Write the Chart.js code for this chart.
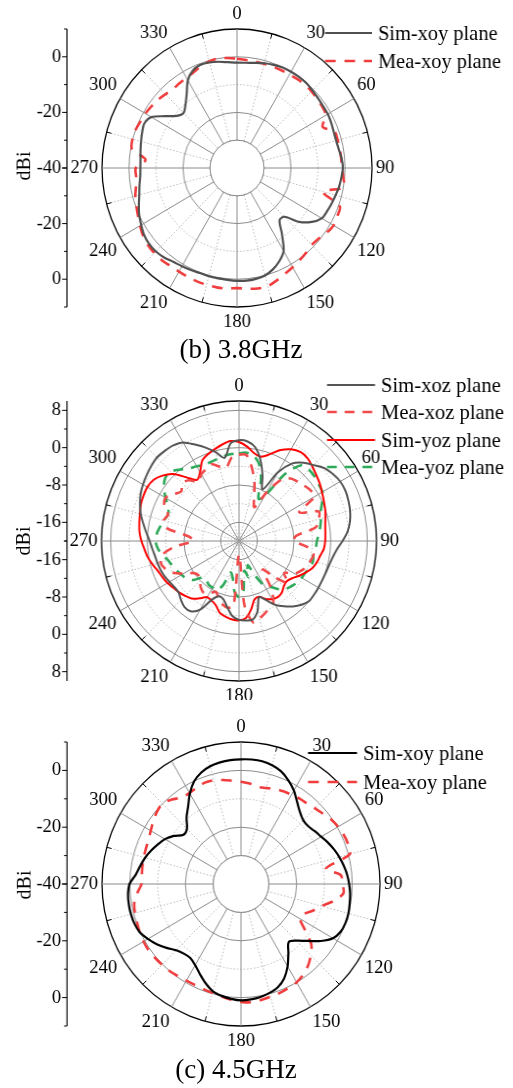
<!DOCTYPE html>
<html>
<head>
<meta charset="utf-8">
<script src="https://cdn.jsdelivr.net/npm/chart.js@4.4.1/dist/chart.umd.min.js"></script>
<style>
  html, body { margin: 0; padding: 0; background: #fff; }
  body { width: 513px; height: 1088px; position: relative; overflow: hidden;
         font-family: "Liberation Serif", "Times New Roman", serif; }
  .wrap { position: absolute; left: 0; }
  .cap { position: absolute; width: 300px; text-align: center; font-size: 27px;
         line-height: 30px; color: #000; white-space: nowrap; }
</style>
</head>
<body>
<div class="wrap" id="w1"><canvas id="c1" width="513" height="345"></canvas></div>
<div class="wrap" id="w2"><canvas id="c2" width="513" height="335"></canvas></div>
<div class="wrap" id="w3"><canvas id="c3" width="513" height="340"></canvas></div>
<div class="cap" style="left:91px;top:334px">(b) 3.8GHz</div>
<div class="cap" style="left:86px;top:1054px">(c) 4.5GHz</div>

<script>
// ── Data (dBi, one value every 5° starting at 0°, clockwise) ──────────
const ANGLES = Array.from({ length: 72 }, (_, i) => i * 5);

// (b) 3.8 GHz, xoy plane
const sim38 = [
  -2.1, -2.0, -1.6, -1.0, -0.5, -0.1,  0.0,  0.0, -0.1, -0.5, -0.9, -1.1,
  -1.2, -1.5, -1.9, -2.0, -1.7, -1.1, -0.8, -1.2, -1.6, -2.2, -2.7, -3.2,
  -3.8, -6.2, -9.8,-15.2,-15.5,-11.0, -5.5, -3.0, -1.2,  0.0,  0.5,  0.7,
   0.6,  0.4,  0.3,  0.3,  0.2,  0.5,  0.8,  1.2,  2.0,  2.5,  2.5,  2.0,
   1.0,  0.0, -1.3, -2.5, -3.3, -4.0, -4.2, -4.1, -3.7, -3.2, -2.6, -2.1,
  -3.4, -7.5,-10.8,-12.0,-10.3, -7.5, -3.6, -1.3, -0.5, -0.7, -1.2, -1.8
];
const mea38 = [
  -0.7, -1.0, -1.1, -1.2, -1.2, -1.2, -1.2, -1.0, -0.8, -1.0, -1.3, -1.5,
  -2.0, -5.0, -1.6, -1.4, -1.3, -1.3, -1.1, -0.5,  0.2, -7.0,  0.5,  1.0,
   1.3,  0.5, -0.5, -0.9, -0.2,  0.5,  1.2,  2.0,  3.0,  4.0,  4.0,  3.6,
   3.2,  3.5,  3.6,  3.5,  3.4,  3.2,  3.0,  3.0,  3.3,  3.3,  3.1,  2.5,
   1.5,  0.5, -0.3, -1.0, -2.0, -2.5, -2.5, -6.0, -0.5,  0.1,  0.0, -0.5,
  -0.8, -1.3, -1.8, -2.5, -3.0, -2.8, -2.5, -2.0, -1.0, -0.3,  0.0, -0.3
];

// xoz / yoz planes
const simXoz = [
   1.6,  1.4,  0.4, -2.0, -5.0, -7.8, -3.0,  0.3,  1.9,  3.0,  4.3,  5.0,
   5.5,  5.6,  5.4,  5.1,  4.6,  3.8,  2.6,  1.4,  0.7,  0.3,  0.1,  0.0,
   0.0,  0.0,  0.0, -0.7, -1.7, -2.9, -4.2, -6.0, -7.2, -4.4, -2.9, -2.9,
  -3.1, -3.8, -5.5, -7.0, -7.4, -6.2, -3.0, -1.6, -1.5, -2.1, -2.8, -2.8,
  -2.5, -2.1, -1.8, -1.6, -1.4, -1.0, -0.5,  0.3,  1.2,  2.2,  3.0,  3.7,
   4.2,  4.6,  5.0,  5.3,  5.2,  5.0,  4.4,  2.8,  1.3, -0.3, -1.9,  1.0
];
const meaXoz = [
  -1.5, -1.5, -4.0, -7.0,-10.5,-12.0, -8.0, -4.0, -2.5, -2.0, -1.5, -1.0,
  -1.0, -5.5, -1.5, -2.0, -3.0, -7.5, -8.0, -5.0, -3.5, -3.8, -4.2, -5.0,
  -6.0, -8.0, -6.0, -9.0,-12.0, -8.0, -5.0, -4.2, -3.5, -2.8, -2.3, -6.0,
 -17.0, -6.0, -5.5, -6.0, -7.0, -8.0, -7.0, -6.5, -7.0, -8.0, -8.5, -8.0,
  -6.0, -4.0, -2.8, -2.3, -3.0, -6.0,-10.0, -9.0, -4.0, -3.0, -3.5, -2.0,
  -1.5, -2.5, -3.5, -2.5, -3.0, -4.5, -3.5, -3.0, -2.5, -3.5, -4.0, -2.0
];
const simYoz = [
   1.2,  0.3, -0.9, -1.3, -0.2,  1.5,  2.7,  3.3,  3.2,  2.6,  2.0,  1.5,
   0.9,  0.4,  0.0, -0.5, -0.9, -1.1, -1.2, -1.4, -2.0, -2.4, -3.0, -4.0,
  -5.0, -6.0, -6.5, -6.2, -5.5, -5.3, -5.6, -6.3, -7.3, -7.0, -5.0, -3.4,
  -3.0, -3.1, -3.5, -4.0, -5.3, -5.9, -6.1, -5.0, -3.9, -3.4, -2.9, -2.5,
  -2.0, -1.6, -1.2, -0.5,  0.2,  0.7,  1.3,  1.8,  2.1,  2.4,  2.8,  3.0,
   3.1,  2.8,  1.8,  0.3, -2.2, -4.0, -3.0, -1.0, -0.2,  0.4,  1.0,  1.5
];
const meaYoz = [
  -1.2, -1.0, -1.5, -3.0, -6.0,-10.0, -9.0, -2.5,  1.2,  1.6,  1.5,  1.2,
   1.0,  0.0, -1.0, -1.5, -2.0, -2.5, -3.0, -3.2, -3.5, -3.3, -3.5, -4.0,
  -4.2, -4.5, -5.0, -5.5, -6.5, -8.0, -9.0,-12.0,-14.5,-12.0,-13.5, -9.0,
  -8.0, -9.0,-12.0,-13.0,-10.0, -8.3, -8.5, -8.5, -9.0, -9.0, -7.0, -6.0,
  -5.5, -5.0, -4.5, -4.0, -3.0, -2.2, -1.8, -2.0, -2.5, -3.0, -3.5, -3.0,
  -1.5,  0.0,  1.0,  1.0,  0.0, -1.0, -1.5, -2.0, -2.0, -1.8, -1.5, -1.3
];

// (c) 4.5 GHz, xoy plane
const sim45 = [
   3.9,  4.0,  3.9,  3.3,  2.2,  0.3, -2.0, -4.8, -7.0, -8.3, -8.4, -7.6,
  -6.7, -5.5, -4.4, -3.4, -2.5, -1.7, -1.1, -0.6, -0.3,  0.0,  0.0, -0.4,
  -1.8, -5.0, -8.8,-11.8,-13.3,-10.3, -6.5, -3.3, -1.3, -0.3,  0.4,  0.8,
   1.0,  0.6,  0.0, -0.9, -2.8, -5.0, -7.0, -8.2, -8.0, -7.0, -5.0, -3.0,
  -1.3,  0.2,  0.8,  1.0,  1.0,  0.8,  0.1, -2.0, -3.2, -4.3, -5.6, -7.0,
  -8.4,-10.5,-13.0,-12.5, -9.5, -6.8, -3.2, -0.1,  1.8,  2.9,  3.5,  3.8
];
const mea45 = [
  -4.0, -4.5, -5.3, -5.0, -4.4, -4.0, -3.7, -3.3, -3.0, -2.3, -1.5, -0.4,
   0.3,  0.8,  1.0,  0.5, -9.0, -4.0, -3.5, -3.0, -6.0,-10.0,-12.5,-15.0,
 -15.5,-12.0, -7.0, -4.5, -2.5, -1.0,  0.0,  0.4,  0.8,  1.1,  1.5,  1.8,
   1.5,  0.9,  0.2, -0.3, -0.6, -0.8, -0.7, -0.4,  0.0,  0.2,  0.4,  0.6,
   0.5,  0.2, -0.2, -0.5, -1.0, -2.5, -4.2, -4.2, -4.0, -3.8, -3.6, -3.3,
  -2.5, -1.5, -0.5,  0.0, -1.2, -2.8, -3.0, -2.5, -2.0, -2.2, -2.8, -3.5
];

// left dBi axis labels (mirrored above and below the centre)
const axisTicks38 = [0, -20, -40];
const axisTicksPlanes = [8, 0, -8, -16];
const axisTicks45 = [0, -20, -40];

// ── Styles ────────────────────────────────────────────────────────────
const SERIF = '"Liberation Serif", "Times New Roman", serif';
const GRID_SOLID = '#8a8a8a';
const GRID_DOT = '#b8b8b8';
const RED_DASH = '#f03c3c';

const PANELS = [
  {
    id: 'c1', wrap: 'w1', top: 0, sx: 135 / 139,
    pad: { left: 98, right: 136, top: 29, bottom: 37 },
    min: -40, max: 10, circles: [-40, -30, -20, -10, 0, 10], solid: [-30, -20, 0],
    hole: -30, axisTicks: axisTicks38, minor: 10, dbiY: 166,
    legend: { x1: 325, x2: 372, tx: 378, ys: [33, 61] },
    datasets: [
      { label: 'Sim-xoy plane', data: sim38, borderColor: '#505050', borderWidth: 2.2 },
      { label: 'Mea-xoy plane', data: mea38, borderColor: RED_DASH, borderWidth: 2.6, borderDash: [11, 9] },
    ]
  },
  {
    id: 'c2', wrap: 'w2', top: 365, sx: 137.5 / 140,
    pad: { left: 99, right: 133, top: 36, bottom: 18 },
    min: -20, max: 10, circles: [-20, -16, -12, -8, -4, 0, 4, 8, 10], solid: [-16, -8, 0, 8],
    hole: null, axisTicks: axisTicksPlanes, minor: 4, dbiY: 541,
    legend: { x1: 327, x2: 375, tx: 381, ys: [385, 412, 440, 467] },
    datasets: [
      { label: 'Sim-xoz plane', data: simXoz, borderColor: '#555555', borderWidth: 2 },
      { label: 'Mea-xoz plane', data: meaXoz, borderColor: '#f04a4a', borderWidth: 2.6, borderDash: [10, 8] },
      { label: 'Sim-yoz plane', data: simYoz, borderColor: '#ff0000', borderWidth: 2 },
      { label: 'Mea-yoz plane', data: meaYoz, borderColor: '#2fa95a', borderWidth: 2.6, borderDash: [10, 8] },
    ]
  },
  {
    id: 'c3', wrap: 'w3', top: 715, sx: 139 / 142,
    pad: { left: 99, right: 129, top: 27, bottom: 28 },
    min: -40, max: 10, circles: [-40, -30, -20, -10, 0, 10], solid: [-30, -20, 0],
    hole: -30, axisTicks: axisTicks45, minor: 10, dbiY: 885,
    legend: { x1: 308, x2: 357, tx: 363, ys: [753, 782] },
    datasets: [
      { label: 'Sim-xoy plane', data: sim45, borderColor: '#000000', borderWidth: 2.2 },
      { label: 'Mea-xoy plane', data: mea45, borderColor: RED_DASH, borderWidth: 2.6, borderDash: [11, 9] },
    ]
  },
];

// ── Decoration plugin: hole, angle labels, left dBi axis, legend ──────
const polarDecor = {
  id: 'polarDecor',
  beforeDatasetsDraw(chart, args, o) {
    const p = o.panel;
    const r = chart.scales.r, ctx = chart.ctx;
    const R = r.drawingArea;
    ctx.save();
    // small ticks on the outer ring between the 30° spokes
    ctx.strokeStyle = '#000';
    ctx.lineWidth = 1;
    ANGLES.forEach((a, i) => {
      if (a % 15 || a % 30 === 0) return;
      const p1 = r.getPointPosition(i, R - 5);
      const p2 = r.getPointPosition(i, R);
      ctx.beginPath();
      ctx.moveTo(p1.x, p1.y);
      ctx.lineTo(p2.x, p2.y);
      ctx.stroke();
    });
    if (p.hole != null) {
      const rad = r.getDistanceFromCenterForValue(p.hole);
      ctx.beginPath();
      ctx.arc(r.xCenter, r.yCenter, rad, 0, Math.PI * 2);
      ctx.fillStyle = '#fff';
      ctx.fill();
      ctx.strokeStyle = GRID_SOLID;
      ctx.stroke();
    }
    ctx.restore();
  },
  afterDraw(chart, args, o) {
    const p = o.panel;
    const r = chart.scales.r, ctx = chart.ctx;
    const xc = r.xCenter, yc = r.yCenter, R = r.drawingArea;
    const X = x => xc + (x - xc) / p.sx;      // page x -> canvas x
    const Y = y => y - p.top;                 // page y -> canvas y
    ctx.save();
    ctx.fillStyle = '#000';

    // angle labels every 30°
    const fs = 19, lh = fs * 1.2;
    ctx.font = fs + 'px ' + SERIF;
    ctx.textBaseline = 'middle';
    ANGLES.forEach((a, i) => {
      if (a % 30) return;
      const pos = r.getPointPosition(i, R + 4);
      let y = pos.y;
      ctx.textAlign = (a === 0 || a === 180) ? 'center' : (a < 180 ? 'left' : 'right');
      if (a === 90 || a === 270) y = pos.y;
      else if (a < 90 || a > 270) y = pos.y - lh / 2;
      else y = pos.y + lh / 2;
      ctx.fillText(String(a), pos.x, y);
    });

    // left dBi axis
    const ax = X(67);
    ctx.strokeStyle = '#000';
    ctx.lineWidth = 1.2;
    ctx.beginPath();
    ctx.moveTo(ax, yc - R);
    ctx.lineTo(ax, yc + R);
    ctx.stroke();
    ctx.lineWidth = 1;
    for (let v = r.min; v <= r.max; v += p.minor) {
      const d = r.getDistanceFromCenterForValue(v);
      const major = p.axisTicks.includes(v);
      const len = major ? 5 : 3;
      [yc - d, yc + d].forEach(y => {
        ctx.beginPath();
        ctx.moveTo(ax, y);
        ctx.lineTo(ax - len, y);
        ctx.stroke();
      });
    }
    ctx.textAlign = 'right';
    p.axisTicks.forEach(v => {
      const d = r.getDistanceFromCenterForValue(v);
      ctx.fillText(String(v), ax - 6, yc - d);
      if (d > 0) ctx.fillText(String(v), ax - 6, yc + d);
    });

    // axis title
    ctx.save();
    ctx.font = '20px ' + SERIF;
    ctx.translate(X(25), Y(p.dbiY));
    ctx.rotate(-Math.PI / 2);
    ctx.textAlign = 'center';
    ctx.fillText('dBi', 0, 0);
    ctx.restore();

    // legend
    const lg = p.legend;
    ctx.font = '21px ' + SERIF;
    ctx.textAlign = 'left';
    chart.data.datasets.forEach((ds, i) => {
      const y = Y(lg.ys[i]);
      ctx.save();
      ctx.strokeStyle = ds.borderColor;
      ctx.lineWidth = ds.borderWidth;
      ctx.setLineDash(ds.borderDash || []);
      ctx.beginPath();
      ctx.moveTo(X(lg.x1), y);
      ctx.lineTo(X(lg.x2), y);
      ctx.stroke();
      ctx.restore();
      ctx.fillText(ds.label, X(lg.tx), y + 1);
    });
    ctx.restore();
  }
};

// ── Build charts ──────────────────────────────────────────────────────
function buildChart(p) {
  const canvas = document.getElementById(p.id);
  const wrap = document.getElementById(p.wrap);
  wrap.style.top = p.top + 'px';

  const chart = new Chart(canvas.getContext('2d'), {
    type: 'radar',
    data: {
      labels: ANGLES,
      datasets: p.datasets.map(d => ({
        label: d.label, data: d.data,
        borderColor: d.borderColor, borderWidth: d.borderWidth,
        borderDash: d.borderDash || [],
        fill: false, pointRadius: 0, pointHoverRadius: 0, tension: 0.3
      }))
    },
    options: {
      responsive: false,
      maintainAspectRatio: false,
      devicePixelRatio: 1,
      animation: false,
      events: [],
      layout: { padding: p.pad },
      plugins: {
        legend: { display: false },
        tooltip: { enabled: false },
        polarDecor: { panel: p }
      },
      scales: {
        r: {
          min: p.min, max: p.max,
          startAngle: 0,
          ticks: { display: false, stepSize: p.minor },
          afterBuildTicks: s => { s.ticks = p.circles.map(v => ({ value: v })); },
          pointLabels: { display: false },
          grid: {
            circular: true,
            color: c => c.tick.value === p.max ? '#000' : (p.solid.includes(c.tick.value) ? GRID_SOLID : GRID_DOT),
            lineWidth: c => c.tick.value === p.min ? 0 : (c.tick.value === p.max ? 1.3 : 1)
          },
          border: {
            dash: c => (c.tick.value === p.max || p.solid.includes(c.tick.value)) ? [] : [1.5, 2]
          },
          angleLines: {
            display: true,
            color: c => (c.index % 6 === 0) ? GRID_SOLID : GRID_DOT,
            lineWidth: c => (c.index % 3 === 0) ? 1 : 0,
            borderDash: c => (c.index % 6 === 0) ? [] : [1.5, 2]
          }
        }
      }
    },
    plugins: [polarDecor]
  });

  const r = chart.scales.r;
  wrap.style.transformOrigin = r.xCenter + 'px 0';
  wrap.style.transform = 'scaleX(' + p.sx + ')';
  return chart;
}

PANELS.forEach(buildChart);
</script>
</body>
</html>
